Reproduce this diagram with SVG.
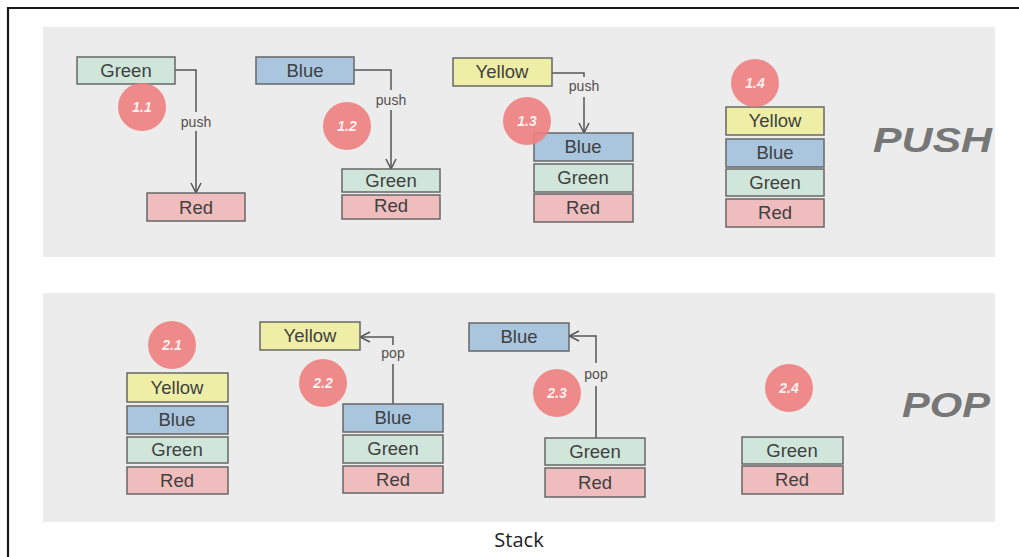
<svg xmlns="http://www.w3.org/2000/svg" width="1019" height="557" viewBox="0 0 1019 557">
  <defs>
    <style>
      .panel { fill: #ececec; }
      .box { stroke: #676767; stroke-width: 1.5; }
      .g { fill: #d1e6da; }
      .b { fill: #a9c6de; }
      .y { fill: #eeeea7; }
      .r { fill: #efbdbd; }
      .lbl { font-family: "Liberation Sans", Arial, sans-serif; font-size: 18.5px; fill: #404040; text-anchor: middle; }
      .step { fill: #ee8080; fill-opacity: 0.9; }
      .num { font-family: "Liberation Sans", Arial, sans-serif; font-size: 14px; font-weight: bold; font-style: italic; fill: #ffffff; fill-opacity: 0.9; text-anchor: middle; }
      .edge { fill: none; stroke: #555555; stroke-width: 1.5; }
      .elbl { font-family: "Liberation Sans", Arial, sans-serif; font-size: 14px; fill: #505050; text-anchor: middle; }
      .title { font-family: "Liberation Sans", Arial, sans-serif; font-size: 35px; font-weight: bold; font-style: italic; fill: #777777; }
      .caption { font-family: "Open Sans", "Liberation Sans", sans-serif; font-size: 20px; fill: #222222; text-anchor: middle; }
    </style>
    <marker id="arr" viewBox="0 0 12 12" refX="11" refY="6" markerWidth="12" markerHeight="12" markerUnits="userSpaceOnUse" orient="auto">
      <path d="M1,1 L11,6 L1,11" fill="none" stroke="#555555" stroke-width="1.5"/>
    </marker>
  </defs>

  <rect width="1019" height="557" fill="#ffffff"/>
  <!-- outer frame -->
  <path d="M8,557 V8 H1019" fill="none" stroke="#1a1a1a" stroke-width="2.2"/>

  <!-- panels -->
  <rect class="panel" x="43" y="27" width="952" height="230"/>
  <rect class="panel" x="43" y="293" width="952" height="229"/>

  <!-- connectors -->
  <g id="connectors">
    <path class="edge" d="M175,70 H196 V112"/>
    <path class="edge" d="M196,131 V193" marker-end="url(#arr)"/>
    <text class="elbl" x="196" y="127">push</text>

    <path class="edge" d="M354,70 H391 V90"/>
    <path class="edge" d="M391,110 V169" marker-end="url(#arr)"/>
    <text class="elbl" x="391" y="105">push</text>

    <path class="edge" d="M552,73 H584 V77"/>
    <path class="edge" d="M584,97 V133" marker-end="url(#arr)"/>
    <text class="elbl" x="584" y="91">push</text>

    <path class="edge" d="M393,404 V364"/>
    <path class="edge" d="M393,345 V337 H360" marker-end="url(#arr)"/>
    <text class="elbl" x="393" y="358">pop</text>

    <path class="edge" d="M596,438 V386"/>
    <path class="edge" d="M596,363 V336 H569" marker-end="url(#arr)"/>
    <text class="elbl" x="596" y="379">pop</text>
  </g>

  <!-- step 1.1 -->
  <g id="n-green-1-1"><rect class="box g" x="77" y="57" width="98" height="27"/><text class="lbl" x="126" y="77">Green</text></g>
  <g id="n-red-1-1"><rect class="box r" x="147" y="193" width="98" height="28"/><text class="lbl" x="196" y="214">Red</text></g>
  <g id="s-1-1"><circle class="step" cx="142" cy="107" r="24"/><text class="num" x="142" y="112">1.1</text></g>

  <!-- step 1.2 -->
  <g id="n-blue-1-2"><rect class="box b" x="256" y="57" width="98" height="27"/><text class="lbl" x="305" y="77">Blue</text></g>
  <g id="n-green-1-2"><rect class="box g" x="342" y="169" width="98" height="23"/><text class="lbl" x="391" y="187">Green</text></g>
  <g id="n-red-1-2"><rect class="box r" x="342" y="195" width="98" height="24"/><text class="lbl" x="391" y="212">Red</text></g>
  <g id="s-1-2"><circle class="step" cx="347" cy="126" r="24"/><text class="num" x="347" y="131">1.2</text></g>

  <!-- step 1.3 -->
  <g id="n-yellow-1-3"><rect class="box y" x="453" y="58" width="99" height="28"/><text class="lbl" x="502" y="78">Yellow</text></g>
  <g id="n-blue-1-3"><rect class="box b" x="534" y="133" width="99" height="28"/><text class="lbl" x="583" y="153">Blue</text></g>
  <g id="n-green-1-3"><rect class="box g" x="534" y="164" width="99" height="28"/><text class="lbl" x="583" y="184">Green</text></g>
  <g id="n-red-1-3"><rect class="box r" x="534" y="194" width="99" height="28"/><text class="lbl" x="583" y="214">Red</text></g>
  <g id="s-1-3"><circle class="step" cx="527" cy="121" r="24"/><text class="num" x="527" y="126">1.3</text></g>

  <!-- step 1.4 -->
  <g id="n-yellow-1-4"><rect class="box y" x="726" y="107" width="98" height="28"/><text class="lbl" x="775" y="127">Yellow</text></g>
  <g id="n-blue-1-4"><rect class="box b" x="726" y="139" width="98" height="28"/><text class="lbl" x="775" y="159">Blue</text></g>
  <g id="n-green-1-4"><rect class="box g" x="726" y="169" width="98" height="27"/><text class="lbl" x="775" y="189">Green</text></g>
  <g id="n-red-1-4"><rect class="box r" x="726" y="199" width="98" height="28"/><text class="lbl" x="775" y="219">Red</text></g>
  <g id="s-1-4"><circle class="step" cx="755" cy="83" r="24"/><text class="num" x="755" y="88">1.4</text></g>

  <text class="title" x="873" y="152" textLength="119" lengthAdjust="spacingAndGlyphs">PUSH</text>

  <!-- step 2.1 -->
  <g id="n-yellow-2-1"><rect class="box y" x="127" y="373" width="101" height="29"/><text class="lbl" x="177" y="394">Yellow</text></g>
  <g id="n-blue-2-1"><rect class="box b" x="127" y="406" width="101" height="28"/><text class="lbl" x="177" y="426">Blue</text></g>
  <g id="n-green-2-1"><rect class="box g" x="127" y="437" width="101" height="26"/><text class="lbl" x="177" y="456">Green</text></g>
  <g id="n-red-2-1"><rect class="box r" x="127" y="467" width="101" height="27"/><text class="lbl" x="177" y="487">Red</text></g>
  <g id="s-2-1"><circle class="step" cx="172" cy="345" r="24"/><text class="num" x="172" y="350">2.1</text></g>

  <!-- step 2.2 -->
  <g id="n-yellow-2-2"><rect class="box y" x="260" y="322" width="100" height="28"/><text class="lbl" x="310" y="342">Yellow</text></g>
  <g id="n-blue-2-2"><rect class="box b" x="343" y="404" width="100" height="28"/><text class="lbl" x="393" y="424">Blue</text></g>
  <g id="n-green-2-2"><rect class="box g" x="343" y="435" width="100" height="28"/><text class="lbl" x="393" y="455">Green</text></g>
  <g id="n-red-2-2"><rect class="box r" x="343" y="466" width="100" height="27"/><text class="lbl" x="393" y="486">Red</text></g>
  <g id="s-2-2"><circle class="step" cx="323" cy="383" r="24"/><text class="num" x="323" y="388">2.2</text></g>

  <!-- step 2.3 -->
  <g id="n-blue-2-3"><rect class="box b" x="469" y="323" width="100" height="28"/><text class="lbl" x="519" y="343">Blue</text></g>
  <g id="n-green-2-3"><rect class="box g" x="545" y="438" width="100" height="27"/><text class="lbl" x="595" y="458">Green</text></g>
  <g id="n-red-2-3"><rect class="box r" x="545" y="468" width="100" height="29"/><text class="lbl" x="595" y="489">Red</text></g>
  <g id="s-2-3"><circle class="step" cx="557" cy="393" r="24"/><text class="num" x="557" y="398">2.3</text></g>

  <!-- step 2.4 -->
  <g id="n-green-2-4"><rect class="box g" x="742" y="437" width="101" height="27"/><text class="lbl" x="792" y="457">Green</text></g>
  <g id="n-red-2-4"><rect class="box r" x="742" y="466" width="101" height="28"/><text class="lbl" x="792" y="486">Red</text></g>
  <g id="s-2-4"><circle class="step" cx="789" cy="388" r="24"/><text class="num" x="789" y="393">2.4</text></g>

  <text class="title" x="902" y="417" textLength="88" lengthAdjust="spacingAndGlyphs">POP</text>

  <text class="caption" x="519" y="547">Stack</text>
</svg>
